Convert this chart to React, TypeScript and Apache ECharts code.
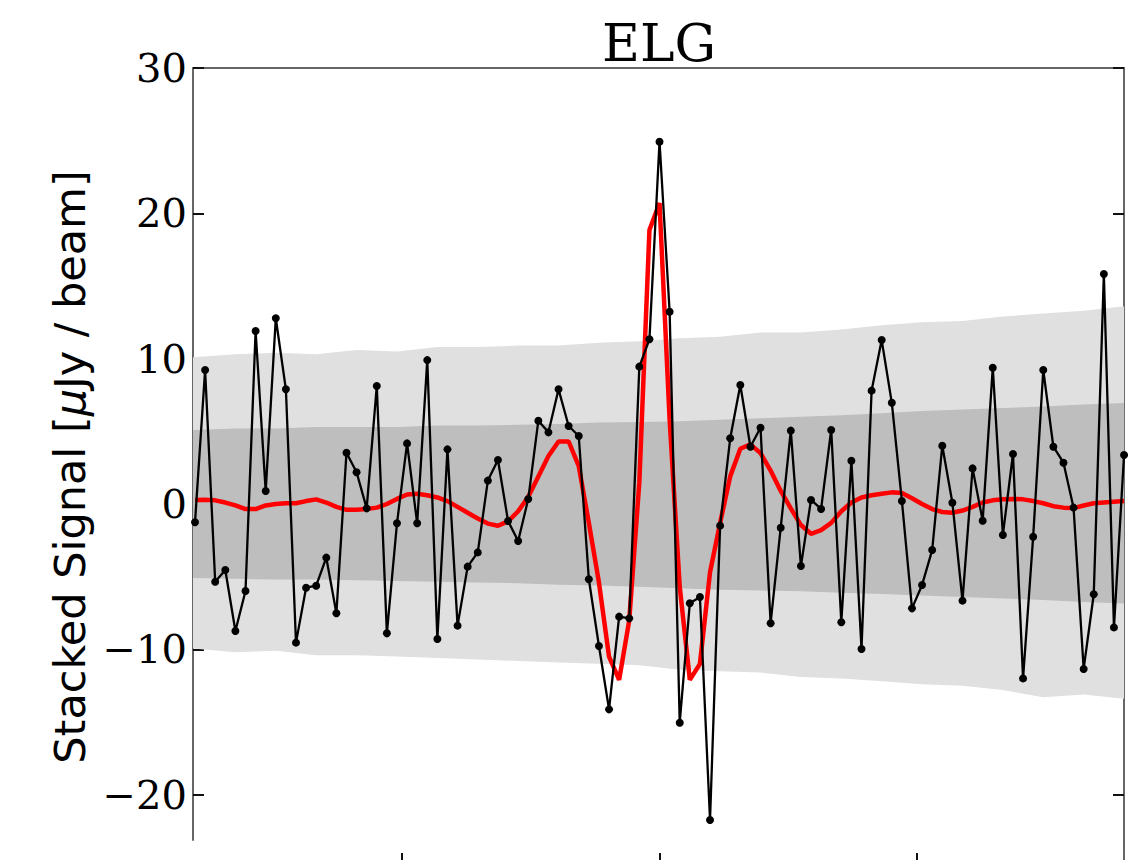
import React, { useEffect, useRef } from "react";
import * as echarts from "echarts";

// Channel grid (velocity offset in km/s)
const channelWidth = 39.2;
const centreChannel = 46;

// Stacked signal per channel [μJy / beam]
const signal = [
  -1.26, 9.22, -5.35, -4.54, -8.74, -5.99, 11.9, 0.89, 12.78, 7.89,
  -9.54, -5.76, -5.62, -3.69, -7.52, 3.53, 2.18, -0.3, 8.12, -8.9,
  -1.33, 4.17, -1.33, 9.9, -9.29, 3.76, -8.37, -4.31, -3.33, 1.61,
  3.03, -1.17, -2.55, 0.34, 5.73, 4.93, 7.89, 5.37, 4.68, -5.18,
  -9.77, -14.13, -7.75, -7.87, 9.45, 11.33, 24.93, 13.23, -15.05, -6.83,
  -6.4, -21.74, -1.49, 4.52, 8.19, 3.94, 5.25, -8.21, -1.63, 5.05,
  -4.27, 0.28, -0.34, 5.09, -8.14, 2.98, -9.98, 7.8, 11.28, 6.97,
  0.21, -7.18, -5.57, -3.17, 4.01, 0.09, -6.65, 2.45, -1.15, 9.38,
  -2.13, 3.44, -12.0, -2.25, 9.22, 3.94, 2.84, -0.25, -11.35, -6.21,
  15.83, -8.49, 3.37,
];

// Model (red) per channel
const model = [
  0.28, 0.3, 0.25, 0.1, -0.1, -0.35, -0.35, -0.1, 0.0, 0.05,
  0.05, 0.2, 0.32, 0.1, -0.2, -0.4, -0.4, -0.35, -0.25, 0.0,
  0.35, 0.65, 0.7, 0.6, 0.45, 0.2, -0.2, -0.6, -1.0, -1.35,
  -1.5, -1.2, -0.5, 0.5, 1.9, 3.3, 4.3, 4.3, 2.6, -1.3,
  -5.4, -10.5, -12.1, -8.0, 1.5, 18.85, 20.7, 5.8, -5.7, -12.1,
  -11.0, -4.7, -1.3, 1.9, 3.8, 4.1, 3.5, 2.3, 0.9, -0.3,
  -1.45, -2.05, -1.8, -1.3, -0.5, 0.1, 0.45, 0.6, 0.7, 0.8,
  0.75, 0.4, 0.0, -0.35, -0.55, -0.6, -0.45, -0.2, 0.1, 0.25,
  0.32, 0.35, 0.32, 0.2, 0.05, -0.15, -0.25, -0.28, -0.1, 0.05,
  0.1, 0.15, 0.2,
];

// Noise bands, sampled every 4 channels
const bandChannels = [-0.2, 4, 8, 12, 16, 20, 24, 28, 32, 36, 40, 44, 48, 52, 56, 60, 64, 68, 72, 76, 80, 84, 88, 92];
const lightUpper = [10.1, 10.3, 10.4, 10.3, 10.6, 10.5, 10.8, 10.8, 10.9, 10.9, 11.1, 11.2, 11.4, 11.5, 11.8, 11.8, 12.0, 12.3, 12.5, 12.6, 12.9, 13.1, 13.3, 13.6];
const lightLower = [-9.95, -10.2, -10.1, -10.4, -10.4, -10.5, -10.6, -10.7, -10.8, -10.9, -11.0, -11.1, -11.4, -11.5, -11.6, -11.9, -12.0, -12.2, -12.4, -12.5, -12.8, -13.3, -13.1, -13.4];
const darkUpper = [5.1, 5.2, 5.2, 5.3, 5.3, 5.3, 5.4, 5.4, 5.45, 5.5, 5.6, 5.65, 5.7, 5.8, 5.9, 6.0, 6.1, 6.25, 6.4, 6.5, 6.6, 6.7, 6.85, 6.95];
const darkLower = [-5.1, -5.15, -5.2, -5.2, -5.25, -5.3, -5.35, -5.4, -5.45, -5.55, -5.6, -5.7, -5.8, -5.9, -5.95, -6.0, -6.1, -6.2, -6.3, -6.4, -6.5, -6.6, -6.75, -6.85];

const xTicks = [-1000, 0, 1000];
const yTicks = [-20, -10, 0, 10, 20, 30];
const xRange = [-1811, 1803];
const yRange = [-23.12, 30];

const vel = (c: number) => (c - centreChannel) * channelWidth;

export default function App() {
  const ref = useRef<HTMLDivElement>(null);

  useEffect(() => {
    if (!ref.current) return;
    const chart = echarts.init(ref.current, undefined, { renderer: "svg" });

    const spine = { color: "#666", width: 2 };
    const tickStyle = { color: "#111", width: 2 };
    const fmt = (v: number) => (v < 0 ? "\u2212" + Math.abs(v) : String(v));

    const bandSeries = (name: string, lower: number[], upper: number[], color: string, z: number) => ({
      name,
      type: "custom",
      data: [0],
      silent: true,
      z,
      renderItem: (_params: any, api: any) => {
        const top = bandChannels.map((c, i) => api.coord([vel(c), upper[i]]));
        const bottom = bandChannels.map((c, i) => api.coord([vel(c), lower[i]])).reverse();
        return {
          type: "polygon",
          shape: { points: top.concat(bottom) },
          style: { fill: color, stroke: "none" },
        };
      },
    });

    chart.setOption({
      animation: false,
      grid: { left: 193, right: 4, top: 68, bottom: 20 },
      xAxis: [
        {
          type: "value",
          min: xRange[0],
          max: xRange[1],
          position: "bottom",
          offset: 13,
          axisLine: { show: false, onZero: false },
          axisTick: { show: true, inside: false, length: 10, customValues: xTicks, lineStyle: tickStyle },
          axisLabel: { show: false },
          splitLine: { show: false },
        },
        {
          type: "value",
          min: xRange[0],
          max: xRange[1],
          position: "top",
          axisLine: { show: true, onZero: false, lineStyle: spine },
          axisTick: { show: false },
          axisLabel: { show: false },
          splitLine: { show: false },
        },
      ],
      yAxis: [
        {
          type: "value",
          min: yRange[0],
          max: yRange[1],
          position: "left",
          axisLine: { show: true, onZero: false, lineStyle: spine },
          axisTick: { show: true, inside: true, length: 11, customValues: yTicks, lineStyle: tickStyle },
          axisLabel: {
            customValues: yTicks,
            fontFamily: "DejaVu Serif",
            fontSize: 40,
            color: "#000",
            margin: 6,
            formatter: fmt,
          },
          splitLine: { show: false },
        },
        {
          type: "value",
          min: yRange[0],
          max: yRange[1],
          position: "right",
          axisLine: { show: true, onZero: false, lineStyle: spine },
          axisTick: { show: true, inside: true, length: 11, customValues: yTicks, lineStyle: tickStyle },
          axisLabel: { show: false },
          splitLine: { show: false },
        },
      ],
      series: [
        bandSeries("light", lightLower, lightUpper, "#e0e0e0", 1),
        bandSeries("dark", darkLower, darkUpper, "#bebebe", 2),
        {
          name: "model",
          type: "line",
          data: model.map((v, i) => [vel(i), v]),
          symbol: "none",
          lineStyle: { color: "#ff0000", width: 4.5 },
          itemStyle: { color: "#ff0000" },
          z: 3,
        },
        {
          name: "signal",
          type: "line",
          data: signal.map((v, i) => [vel(i), v]),
          symbol: "circle",
          symbolSize: 8,
          lineStyle: { color: "#000", width: 2.3 },
          itemStyle: { color: "#000" },
          z: 4,
        },
      ],
      graphic: [
        {
          type: "text",
          x: 659,
          y: 43,
          style: {
            text: "ELG",
            fontFamily: "DejaVu Serif",
            fontSize: 52,
            fill: "#000",
            align: "center",
            verticalAlign: "middle",
          },
        },
        {
          type: "text",
          x: 70,
          y: 467,
          rotation: Math.PI / 2,
          style: {
            text: "Stacked Signal [{mu|\u03bc}Jy / beam]",
            fontFamily: "DejaVu Sans",
            fontSize: 43,
            fill: "#000",
            align: "center",
            verticalAlign: "middle",
            rich: {
              mu: { fontFamily: "DejaVu Sans", fontSize: 43, fontStyle: "italic", fill: "#000" },
            },
          },
        },
        {
          type: "line",
          shape: { x1: 1124, y1: 840, x2: 1124, y2: 860 },
          style: { stroke: "#666", lineWidth: 2 },
        },
      ],
    });

    return () => chart.dispose();
  }, []);

  return (
    <div
      ref={ref}
      style={{ position: "fixed", left: 0, top: 0, width: 1128, height: 860, background: "#fff" }}
    />
  );
}
